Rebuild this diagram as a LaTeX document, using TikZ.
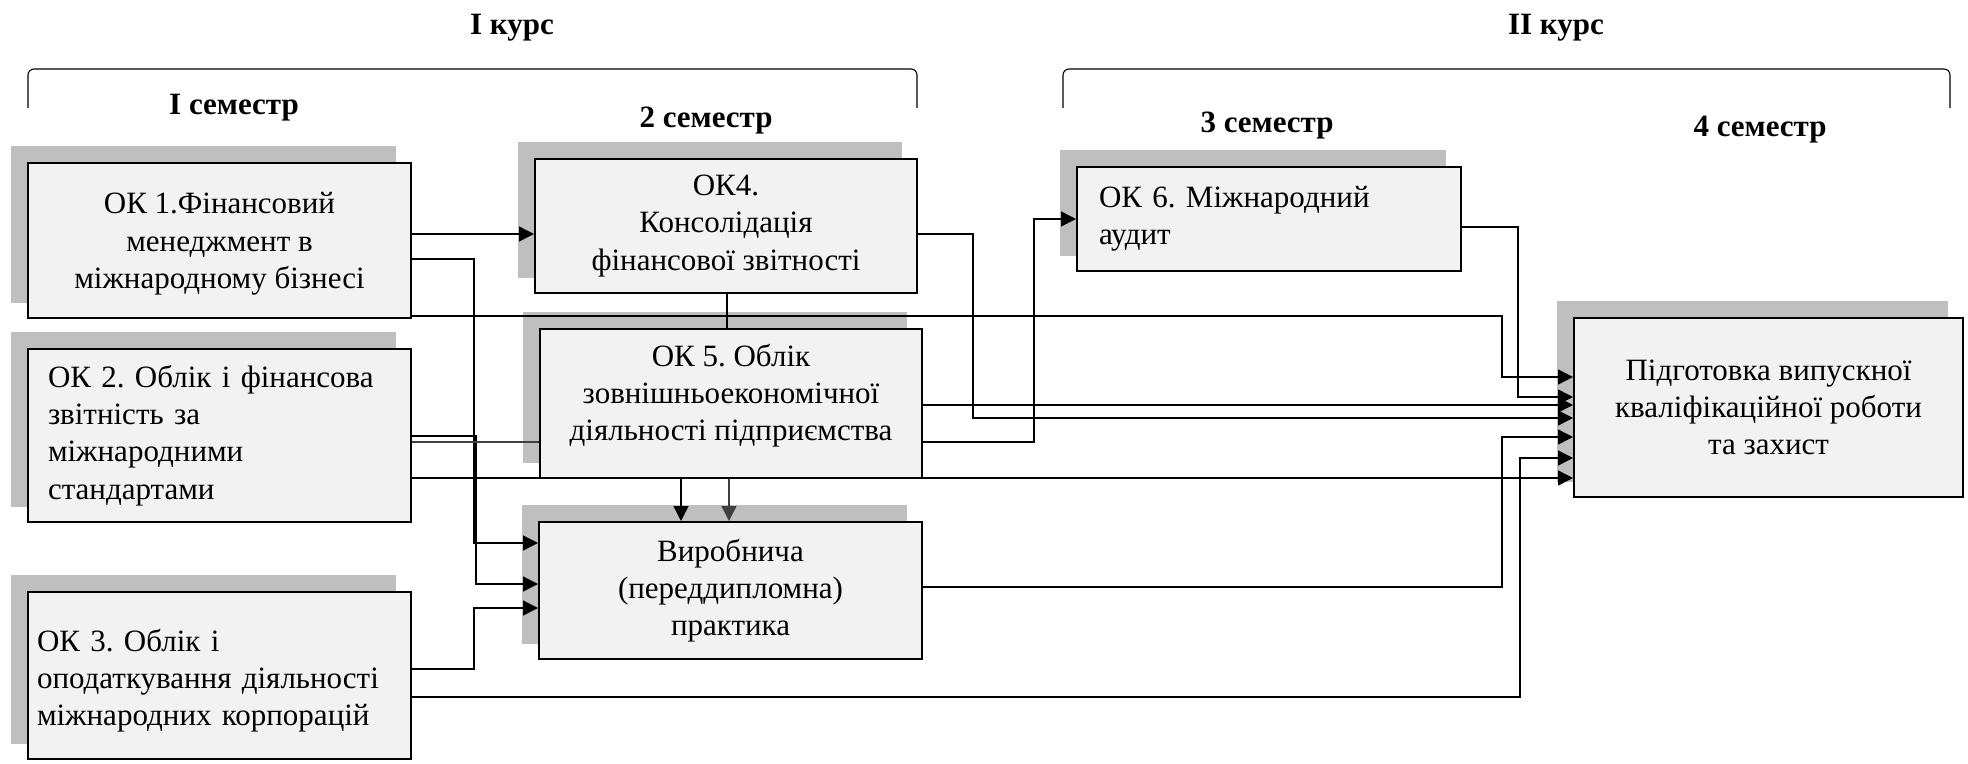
\documentclass[tikz,border=0pt]{standalone}
\usepackage{fontspec}
\setmainfont{Liberation Serif}
\usetikzlibrary{arrows.meta}
\definecolor{boxfill}{HTML}{F2F2F2}
\definecolor{shadowc}{HTML}{BFBFBF}
\definecolor{darkl}{HTML}{404040}
\pgfdeclarelayer{shadow}
\pgfdeclarelayer{lines}
\pgfsetlayers{shadow,lines,main}
\newcommand\bxfont{\fontsize{15.5}{18.6}\selectfont\frenchspacing}
\newcommand\hdfont{\fontsize{15.5}{18.6}\selectfont\bfseries}
\begin{document}
\begin{tikzpicture}[x=0.5pt,y=-0.5pt,
  box/.style={draw=black,line width=1pt,fill=boxfill,inner sep=0pt,font=\bxfont,align=center},
  lbox/.style={box,align=left},
  hdr/.style={font=\hdfont,inner sep=0pt},
  conn/.style={line width=0.65pt,draw=black},
  arr/.style={conn,-{Triangle[length=7.5pt,width=7.5pt]}},
  brk/.style={line width=0.55pt,rounded corners=3pt},
  shd/.style={fill=shadowc},
]
\useasboundingbox (0,0) rectangle (1968,764);

% headers
\node[hdr] (kurs1) at (512,28) {I курс};
\node[hdr] (kurs2) at (1556,28) {II курс};
\node[hdr] (sem1) at (234,108) {I семестр};
\node[hdr] (sem2) at (706,121) {2 семестр};
\node[hdr] (sem3) at (1267,126) {3 семестр};
\node[hdr] (sem4) at (1760,130) {4 семестр};
\draw[brk] (28,108) -- (28,69) -- (917,69) -- (917,108);
\draw[brk] (1063,108) -- (1063,69) -- (1950,69) -- (1950,108);

% boxes
\node[box,minimum width=191.5pt,minimum height=77.5pt,text depth=0pt] (ok1) at (219.5,240.5) {ОК 1.Фінансовий\\менеджмент в\\міжнародному бізнесі};
\node[lbox,minimum height=86.5pt,text width=171.5pt,inner xsep=10pt] (ok2) at (219.5,435.5) {ОК 2. Облік і фінансова\\звітність за\\міжнародними\\стандартами};
\node[lbox,minimum height=83.5pt,text width=182.5pt,inner xsep=4.5pt,text height=16.5pt] (ok3) at (219.5,675.5) {ОК 3. Облік і\\оподаткування діяльності\\міжнародних корпорацій};
\node[box,minimum width=191pt,minimum height=67pt] (ok4) at (726,226) {ОК4.\\Консолідація\\фінансової звітності};
\node[box,minimum width=191pt,minimum height=74.5pt,text depth=11pt] (ok5) at (731,403.5) {ОК 5. Облік\\зовнішньоекономічної\\діяльності підприємства};
\node[box,minimum width=191.5pt,minimum height=68.5pt] (vyr) at (730.5,590.5) {Виробнича\\(переддипломна)\\практика};
\node[lbox,minimum height=52pt,text width=170pt,inner xsep=11pt] (ok6) at (1269,219) {ОК 6. Міжнародний\\аудит};
\node[box,minimum width=194.5pt,minimum height=89.5pt] (pid) at (1768.5,407.5) {Підготовка випускної\\кваліфікаційної роботи\\та захист};

% shadows
\begin{pgfonlayer}{shadow}
\foreach \n in {ok1,ok2,ok3,ok4,ok5,vyr,ok6,pid}
  \fill[shd] ([shift={(-16.5,-16)}]\n.north west) rectangle ([shift={(-16.5,-16)}]\n.south east);
\end{pgfonlayer}

% connectors
\begin{pgfonlayer}{lines}
\draw[arr] (ok1.east|-0,234) -- (ok4.west|-0,234);
\draw[arr] (ok1.east|-0,259) -- (474,259) -- (474,543) -- (vyr.west|-0,543);
\draw[arr] (ok1.east|-0,316) -- (1502,316) -- (1502,377) -- (pid.west|-0,377);
\draw[arr] (ok2.east|-0,436) -- (476,436) -- (476,584) -- (vyr.west|-0,584);
\draw[conn,draw=darkl] (ok2.east|-0,442) -- (ok5.west|-0,442);
\draw[arr] (ok2.east|-0,478) -- (pid.west|-0,478);
\draw[arr] (ok3.east|-0,669) -- (474,669) -- (474,608) -- (vyr.west|-0,608);
\draw[arr] (ok3.east|-0,697) -- (1520,697) -- (1520,458) -- (pid.west|-0,458);
\draw[conn] (ok4.south-|727,0) -- (ok5.north-|727,0);
\draw[arr] (ok4.east|-0,234) -- (973,234) -- (973,418) -- (pid.west|-0,418);
\draw[arr] (ok5.south-|681,0) -- (vyr.north-|681,0);
\draw[arr,draw=darkl] (ok5.south-|729,0) -- (vyr.north-|729,0);
\draw[arr] (ok5.east|-0,442) -- (1034,442) -- (1034,219) -- (ok6.west|-0,219);
\draw[arr] (ok5.east|-0,405) -- (pid.west|-0,405);
\draw[arr] (ok6.east|-0,227) -- (1518,227) -- (1518,397) -- (pid.west|-0,397);
\draw[arr] (vyr.east|-0,587) -- (1502,587) -- (1502,437) -- (pid.west|-0,437);
\end{pgfonlayer}
\end{tikzpicture}
\end{document}
